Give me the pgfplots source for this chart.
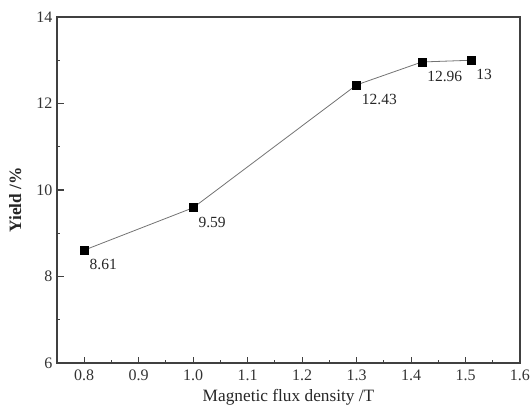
\documentclass[border=0pt]{standalone}
\usepackage{fontspec}
\setmainfont{Liberation Serif}
\usepackage{pgfplots}
\pgfplotsset{compat=1.18}

\begin{document}
\begin{tikzpicture}
\begin{axis}[
    name=ax,
    scale only axis,
    width=463pt, height=346pt,
    xmin=0.75, xmax=1.6,
    ymin=6, ymax=14,
    xtick={0.8,0.9,...,1.6},
    ytick={6,8,10,12,14},
    minor x tick num=1,
    minor y tick num=1,
    tick align=inside,
    major tick length=6.5pt,
    minor tick length=3.5pt,
    xtick pos=bottom, ytick pos=left,
    axis line style={black!75, line width=1.1pt},
    every tick/.style={black!75, line width=1.1pt},
    tick label style={font=\fontsize{16}{19}\selectfont, black!80},
    /pgf/number format/assume math mode=true,
    x tick label style={/pgf/number format/fixed, /pgf/number format/fixed zerofill, /pgf/number format/precision=1, yshift=-3pt},
    y tick label style={/pgf/number format/fixed, /pgf/number format/precision=0, xshift=-1pt},
    xlabel={Magnetic flux density /T},
    ylabel={\bfseries Yield /\%},
    label style={font=\fontsize{17.3}{20}\selectfont, black!85},
    xlabel style={at={(axis description cs:0.5,-0.098)}, anchor=center},
    ylabel style={at={(axis description cs:-0.09,0.471)}, anchor=center},
    nodes near coords,
    point meta=explicit symbolic,
    every node near coord/.append style={anchor=north west, inner sep=0pt, xshift=5pt, yshift=-9pt, font=\fontsize{15.5}{18}\selectfont, black!85},
]
\addplot[black!55, line width=0.8pt, mark=square*, mark size=4pt, mark options={black, fill=black}]
coordinates {
    (0.8,8.61) [8.61]
    (1.0,9.59) [9.59]
    (1.3,12.43) [12.43]
    (1.42,12.96) [12.96]
    (1.51,13.0) [13]
};
\end{axis}
\pgfresetboundingbox
\path ([xshift=-57pt,yshift=-52pt]ax.south west) rectangle ([xshift=11pt,yshift=17pt]ax.north east);
\end{tikzpicture}
\end{document}
